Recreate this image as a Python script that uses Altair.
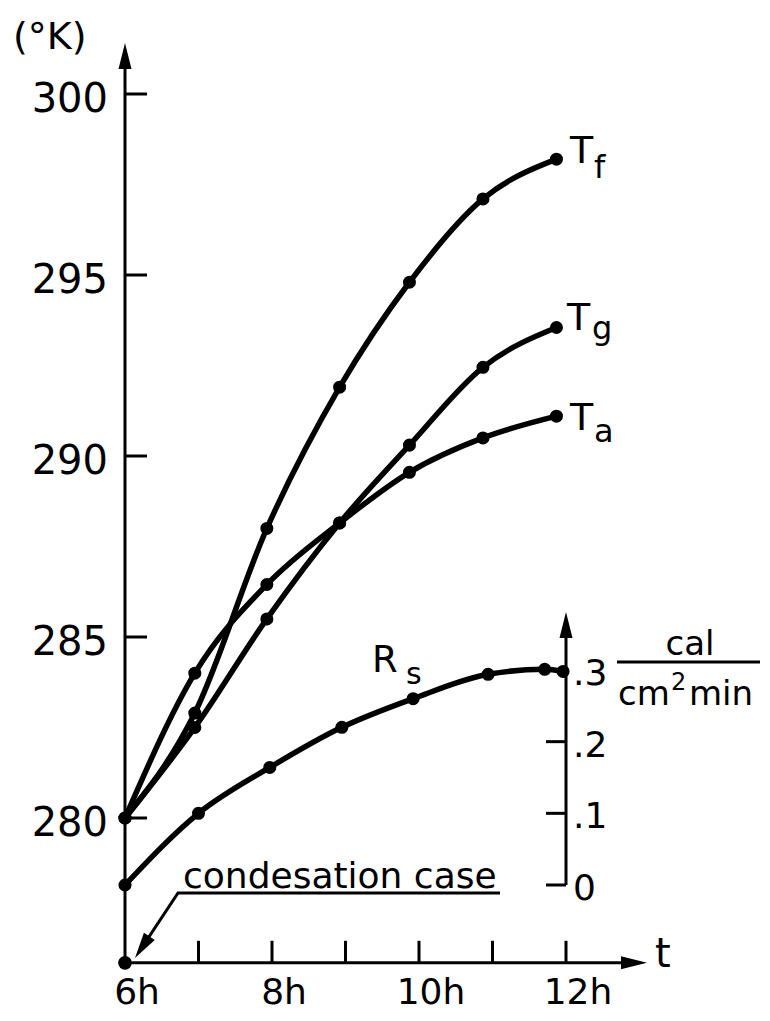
import altair as alt
import pandas as pd

# ---------------- data ----------------
hours_T = [6.0, 6.95, 7.93, 8.92, 9.87, 10.87, 11.87]
T_f = [280.0, 282.9, 288.0, 291.9, 294.8, 297.1, 298.2]
T_g = [280.0, 282.5, 285.5, 288.15, 290.3, 292.45, 293.55]
T_a = [280.0, 284.0, 286.45, 288.15, 289.55, 290.5, 291.1]

hours_R = [6.0, 7.0, 7.97, 8.95, 9.92, 10.94, 11.71, 11.96]
R_s = [0.0, 0.10, 0.164, 0.22, 0.26, 0.294, 0.301, 0.298]

cond_t = [6.0]
cond_K = [276.0]

k_ticks = [280, 285, 290, 295, 300]
k_tick_labels = ["280", "285", "290", "295", "300"]
t_ticks = [7, 8, 9, 10, 11, 12]
t_label_pos = [6, 8, 10, 12]
t_labels = ["6h", "8h", "10h", "12h"]
r_ticks = [0.0, 0.1, 0.2, 0.3]
r_tick_labels = ["0", ".1", ".2", ".3"]

# ---------------- layout (page pixels -> scale domains) ----------------
W, H, OFF = 754, 1005, 8
PX_T6, PX_PER_H = 125.0, 73.5
PY_K280, PX_PER_K = 818.0, 36.2
PY_R0, PX_PER_R = 885.0, 716.7

def tx(px):
    return 6 + (px - PX_T6) / PX_PER_H

def ky(py):
    return 280 + (PY_K280 - py) / PX_PER_K

def ry(py):
    return (PY_R0 - py) / PX_PER_R

xs = alt.Scale(domain=[tx(OFF), tx(OFF + W)], nice=False, zero=False)
ks = alt.Scale(domain=[ky(OFF + H), ky(OFF)], nice=False, zero=False)
rs = alt.Scale(domain=[ry(OFF + H), ry(OFF)], nice=False, zero=False)

FONT = "DejaVu Sans"
ARROW = "M0,0L0.5,2L-0.5,2Z"
K_BASE = 276.0
LW = 5.5
DOT = 170


def ex(f="x"):
    return alt.X(f"{f}:Q", scale=xs, axis=None)


def ek(f="y"):
    return alt.Y(f"{f}:Q", scale=ks, axis=None)


def er(f="y"):
    return alt.Y(f"{f}:Q", scale=rs, axis=None)


def text(s, x, y, size, yenc, align="left", baseline="alphabetic", dx=0, dy=0):
    return alt.Chart(pd.DataFrame({"x": [x], "y": [y], "s": [s]})).mark_text(
        align=align, baseline=baseline, dx=dx, dy=dy, fontSize=size,
        font=FONT, color="black"
    ).encode(x=ex(), y=yenc(), text="s:N")


def arrow(x, y, angle, yenc):
    return alt.Chart(pd.DataFrame({"x": [x], "y": [y]})).mark_point(
        shape=ARROW, filled=True, size=676, angle=angle, color="black", opacity=1
    ).encode(x=ex(), y=yenc())


# ---------------- temperature layer ----------------
tdf = pd.DataFrame({
    "t": hours_T * 3,
    "K": T_f + T_g + T_a,
    "series": ["Tf"] * len(hours_T) + ["Tg"] * len(hours_T) + ["Ta"] * len(hours_T),
})

t_lines = alt.Chart(tdf).mark_line(
    color="black", strokeWidth=LW, interpolate="monotone"
).encode(x=ex("t"), y=ek("K"), detail="series:N")

t_pts = alt.Chart(tdf).mark_circle(size=DOT, color="black", opacity=1).encode(
    x=ex("t"), y=ek("K"))

cond_pt = alt.Chart(pd.DataFrame({"t": cond_t, "K": cond_K})).mark_circle(
    size=190, color="black", opacity=1).encode(x=ex("t"), y=ek("K"))

k_tip = ky(43)
y_axis = alt.Chart(pd.DataFrame({"x": [6.0], "y": [K_BASE], "y2": [k_tip - 14 / PX_PER_K]})).mark_rule(
    color="black", strokeWidth=3).encode(x=ex(), y=ek(), y2="y2:Q")
y_arrow = arrow(6.0, k_tip, 0, ek)

y_tick_marks = alt.Chart(pd.DataFrame({"y": k_ticks, "x": 6.0, "x2": 6.0 + 22 / PX_PER_H})).mark_rule(
    color="black", strokeWidth=3).encode(x=ex(), x2="x2:Q", y=ek())
y_tick_text = alt.Chart(pd.DataFrame({"y": k_ticks, "x": 6.0, "s": k_tick_labels})).mark_text(
    align="right", baseline="middle", dx=-17, dy=6, fontSize=40, font=FONT, color="black"
).encode(x=ex(), y=ek(), text="s:N")

t_tip = tx(647)
x_axis = alt.Chart(pd.DataFrame({"x": [6.0], "x2": [t_tip - 14 / PX_PER_H], "y": [K_BASE]})).mark_rule(
    color="black", strokeWidth=3).encode(x=ex(), x2="x2:Q", y=ek())
x_arrow = arrow(t_tip, K_BASE, 90, ek)

x_tick_marks = alt.Chart(pd.DataFrame({"x": t_ticks, "y": K_BASE, "y2": K_BASE + 22 / PX_PER_K})).mark_rule(
    color="black", strokeWidth=3).encode(x=ex(), y=ek(), y2="y2:Q")
x_tick_text = alt.Chart(pd.DataFrame({"x": t_label_pos, "y": K_BASE, "s": t_labels})).mark_text(
    align="center", baseline="middle", dx=12, dy=30, fontSize=36, font=FONT, color="black"
).encode(x=ex(), y=ek(), text="s:N")

# leader line for "condesation case"
lead = alt.Chart(pd.DataFrame({
    "x": [tx(500), tx(178), tx(140.5)],
    "y": [ky(893), ky(893), ky(949.7)],
    "o": [0, 1, 2],
})).mark_line(color="black", strokeWidth=3).encode(x=ex(), y=ek(), order="o:Q")
lead_arrow = arrow(tx(135), ky(958), 213.5, ek)

k_texts = [
    text("(°K)", tx(13), ky(49), 38, ek),
    text("t", tx(655), ky(967), 40, ek),
    text("T", tx(570), ky(163), 38, ek),
    text("f", tx(594), ky(178), 32, ek),
    text("T", tx(567), ky(330), 38, ek),
    text("g", tx(592), ky(339), 32, ek),
    text("T", tx(570), ky(430), 38, ek),
    text("a", tx(594), ky(442), 32, ek),
    text("R", tx(372), ky(672), 37, ek),
    text("s", tx(406), ky(684), 30, ek),
    text("condesation case", tx(183), ky(888), 36, ek),
]

k_layer = alt.layer(
    lead, lead_arrow,
    y_axis, y_arrow, y_tick_marks, y_tick_text,
    x_axis, x_arrow, x_tick_marks, x_tick_text,
    t_lines, t_pts, cond_pt,
    *k_texts,
)

# ---------------- solar radiation layer (right axis) ----------------
rdf = pd.DataFrame({"t": hours_R, "r": R_s})
r_line = alt.Chart(rdf).mark_line(
    color="black", strokeWidth=LW, interpolate="monotone"
).encode(x=ex("t"), y=er("r"))
r_pts = alt.Chart(rdf).mark_circle(size=DOT, color="black", opacity=1).encode(
    x=ex("t"), y=er("r"))

R_AX = 12.0
r_tip = ry(612)
r_axis = alt.Chart(pd.DataFrame({"x": [R_AX], "y": [0.0], "y2": [r_tip - 14 / PX_PER_R]})).mark_rule(
    color="black", strokeWidth=3).encode(x=ex(), y=er(), y2="y2:Q")
r_arrow = arrow(R_AX, r_tip, 0, er)
r_tick_marks = alt.Chart(pd.DataFrame({"y": r_ticks, "x": R_AX - 20 / PX_PER_H, "x2": R_AX})).mark_rule(
    color="black", strokeWidth=3).encode(x=ex(), x2="x2:Q", y=er())
r_tick_text = alt.Chart(pd.DataFrame({"y": r_ticks, "x": R_AX, "s": r_tick_labels})).mark_text(
    align="left", baseline="middle", dx=7, dy=4, fontSize=36, font=FONT, color="black"
).encode(x=ex(), y=er(), text="s:N")

frac_bar = alt.Chart(pd.DataFrame({"x": [tx(617)], "x2": [tx(760)], "y": [ry(662)]})).mark_rule(
    color="black", strokeWidth=3).encode(x=ex(), x2="x2:Q", y=er())

r_layer = alt.layer(
    r_axis, r_arrow, r_tick_marks, r_tick_text, frac_bar,
    r_line, r_pts,
    text("cal", tx(690), ry(655), 34, er, align="center"),
    text("cm", tx(618), ry(705), 34, er),
    text("2", tx(671), ry(690), 24, er),
    text("min", tx(689), ry(705), 34, er),
)

chart = alt.layer(k_layer, r_layer).resolve_scale(y="independent").properties(
    width=W, height=H, padding=0, autosize=alt.AutoSizeParams(type="none"),
    background="white",
).configure_view(stroke=None)

chart.save("out.html", embed_options={"renderer": "svg", "actions": False})
